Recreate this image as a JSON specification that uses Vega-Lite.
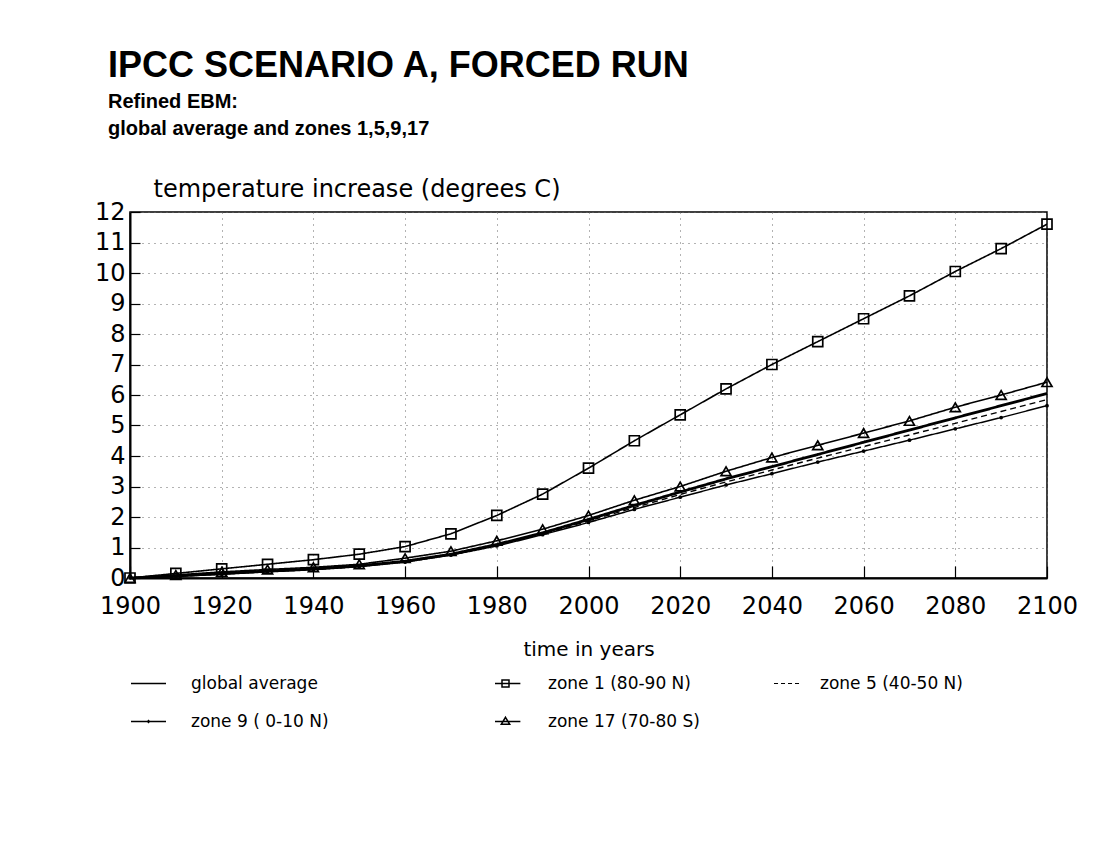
{
  "$schema": "https://vega.github.io/schema/vega-lite/v6.json",
  "width": 917,
  "height": 366,
  "autosize": "none",
  "padding": {"left": 130, "top": 212, "right": 72, "bottom": 287},
  "background": "white",
  "title": {
    "text": "IPCC SCENARIO A, FORCED RUN",
    "subtitle": ["Refined EBM:", "global average and zones 1,5,9,17"],
    "anchor": "start",
    "frame": "group",
    "dx": -22,
    "offset": 37,
    "font": "Liberation Sans",
    "fontSize": 36,
    "fontWeight": "bold",
    "color": "black",
    "subtitleFont": "Liberation Sans",
    "subtitleFontSize": 20,
    "subtitleFontWeight": "bold",
    "subtitleColor": "black",
    "subtitlePadding": 7,
    "subtitleLineHeight": 27
  },
  "data": {"values": [
    {"year": 1900, "series": "global average", "t": 0},
    {"year": 1910, "series": "global average", "t": 0.07},
    {"year": 1920, "series": "global average", "t": 0.15},
    {"year": 1930, "series": "global average", "t": 0.23},
    {"year": 1940, "series": "global average", "t": 0.3},
    {"year": 1950, "series": "global average", "t": 0.4},
    {"year": 1960, "series": "global average", "t": 0.55},
    {"year": 1970, "series": "global average", "t": 0.78},
    {"year": 1980, "series": "global average", "t": 1.1},
    {"year": 1990, "series": "global average", "t": 1.48},
    {"year": 2000, "series": "global average", "t": 1.92},
    {"year": 2010, "series": "global average", "t": 2.38},
    {"year": 2020, "series": "global average", "t": 2.82},
    {"year": 2030, "series": "global average", "t": 3.25},
    {"year": 2040, "series": "global average", "t": 3.65},
    {"year": 2050, "series": "global average", "t": 4.05},
    {"year": 2060, "series": "global average", "t": 4.45},
    {"year": 2070, "series": "global average", "t": 4.85},
    {"year": 2080, "series": "global average", "t": 5.25},
    {"year": 2090, "series": "global average", "t": 5.65},
    {"year": 2100, "series": "global average", "t": 6.05},
    {"year": 1900, "series": "zone  1 (80-90 N)", "t": 0},
    {"year": 1910, "series": "zone  1 (80-90 N)", "t": 0.15},
    {"year": 1920, "series": "zone  1 (80-90 N)", "t": 0.3},
    {"year": 1930, "series": "zone  1 (80-90 N)", "t": 0.45},
    {"year": 1940, "series": "zone  1 (80-90 N)", "t": 0.6},
    {"year": 1950, "series": "zone  1 (80-90 N)", "t": 0.78},
    {"year": 1960, "series": "zone  1 (80-90 N)", "t": 1.03},
    {"year": 1970, "series": "zone  1 (80-90 N)", "t": 1.45},
    {"year": 1980, "series": "zone  1 (80-90 N)", "t": 2.05},
    {"year": 1990, "series": "zone  1 (80-90 N)", "t": 2.75},
    {"year": 2000, "series": "zone  1 (80-90 N)", "t": 3.6},
    {"year": 2010, "series": "zone  1 (80-90 N)", "t": 4.5},
    {"year": 2020, "series": "zone  1 (80-90 N)", "t": 5.35},
    {"year": 2030, "series": "zone  1 (80-90 N)", "t": 6.2},
    {"year": 2040, "series": "zone  1 (80-90 N)", "t": 7.0},
    {"year": 2050, "series": "zone  1 (80-90 N)", "t": 7.75},
    {"year": 2060, "series": "zone  1 (80-90 N)", "t": 8.5},
    {"year": 2070, "series": "zone  1 (80-90 N)", "t": 9.25},
    {"year": 2080, "series": "zone  1 (80-90 N)", "t": 10.05},
    {"year": 2090, "series": "zone  1 (80-90 N)", "t": 10.8},
    {"year": 2100, "series": "zone  1 (80-90 N)", "t": 11.6},
    {"year": 1900, "series": "zone  5 (40-50 N)", "t": 0},
    {"year": 1910, "series": "zone  5 (40-50 N)", "t": 0.06},
    {"year": 1920, "series": "zone  5 (40-50 N)", "t": 0.13},
    {"year": 1930, "series": "zone  5 (40-50 N)", "t": 0.21},
    {"year": 1940, "series": "zone  5 (40-50 N)", "t": 0.28},
    {"year": 1950, "series": "zone  5 (40-50 N)", "t": 0.38},
    {"year": 1960, "series": "zone  5 (40-50 N)", "t": 0.53},
    {"year": 1970, "series": "zone  5 (40-50 N)", "t": 0.76},
    {"year": 1980, "series": "zone  5 (40-50 N)", "t": 1.07},
    {"year": 1990, "series": "zone  5 (40-50 N)", "t": 1.45},
    {"year": 2000, "series": "zone  5 (40-50 N)", "t": 1.87},
    {"year": 2010, "series": "zone  5 (40-50 N)", "t": 2.31},
    {"year": 2020, "series": "zone  5 (40-50 N)", "t": 2.74},
    {"year": 2030, "series": "zone  5 (40-50 N)", "t": 3.15},
    {"year": 2040, "series": "zone  5 (40-50 N)", "t": 3.54},
    {"year": 2050, "series": "zone  5 (40-50 N)", "t": 3.93},
    {"year": 2060, "series": "zone  5 (40-50 N)", "t": 4.31},
    {"year": 2070, "series": "zone  5 (40-50 N)", "t": 4.69},
    {"year": 2080, "series": "zone  5 (40-50 N)", "t": 5.07},
    {"year": 2090, "series": "zone  5 (40-50 N)", "t": 5.46},
    {"year": 2100, "series": "zone  5 (40-50 N)", "t": 5.85},
    {"year": 1900, "series": "zone  9 ( 0-10 N)", "t": 0},
    {"year": 1910, "series": "zone  9 ( 0-10 N)", "t": 0.05},
    {"year": 1920, "series": "zone  9 ( 0-10 N)", "t": 0.12},
    {"year": 1930, "series": "zone  9 ( 0-10 N)", "t": 0.2},
    {"year": 1940, "series": "zone  9 ( 0-10 N)", "t": 0.27},
    {"year": 1950, "series": "zone  9 ( 0-10 N)", "t": 0.37},
    {"year": 1960, "series": "zone  9 ( 0-10 N)", "t": 0.52},
    {"year": 1970, "series": "zone  9 ( 0-10 N)", "t": 0.75},
    {"year": 1980, "series": "zone  9 ( 0-10 N)", "t": 1.05},
    {"year": 1990, "series": "zone  9 ( 0-10 N)", "t": 1.42},
    {"year": 2000, "series": "zone  9 ( 0-10 N)", "t": 1.82},
    {"year": 2010, "series": "zone  9 ( 0-10 N)", "t": 2.25},
    {"year": 2020, "series": "zone  9 ( 0-10 N)", "t": 2.65},
    {"year": 2030, "series": "zone  9 ( 0-10 N)", "t": 3.05},
    {"year": 2040, "series": "zone  9 ( 0-10 N)", "t": 3.42},
    {"year": 2050, "series": "zone  9 ( 0-10 N)", "t": 3.8},
    {"year": 2060, "series": "zone  9 ( 0-10 N)", "t": 4.16},
    {"year": 2070, "series": "zone  9 ( 0-10 N)", "t": 4.52},
    {"year": 2080, "series": "zone  9 ( 0-10 N)", "t": 4.89},
    {"year": 2090, "series": "zone  9 ( 0-10 N)", "t": 5.26},
    {"year": 2100, "series": "zone  9 ( 0-10 N)", "t": 5.65},
    {"year": 1900, "series": "zone 17 (70-80 S)", "t": 0},
    {"year": 1910, "series": "zone 17 (70-80 S)", "t": 0.1},
    {"year": 1920, "series": "zone 17 (70-80 S)", "t": 0.2},
    {"year": 1930, "series": "zone 17 (70-80 S)", "t": 0.28},
    {"year": 1940, "series": "zone 17 (70-80 S)", "t": 0.35},
    {"year": 1950, "series": "zone 17 (70-80 S)", "t": 0.45},
    {"year": 1960, "series": "zone 17 (70-80 S)", "t": 0.65},
    {"year": 1970, "series": "zone 17 (70-80 S)", "t": 0.88},
    {"year": 1980, "series": "zone 17 (70-80 S)", "t": 1.22},
    {"year": 1990, "series": "zone 17 (70-80 S)", "t": 1.6},
    {"year": 2000, "series": "zone 17 (70-80 S)", "t": 2.05},
    {"year": 2010, "series": "zone 17 (70-80 S)", "t": 2.55},
    {"year": 2020, "series": "zone 17 (70-80 S)", "t": 3.0},
    {"year": 2030, "series": "zone 17 (70-80 S)", "t": 3.5},
    {"year": 2040, "series": "zone 17 (70-80 S)", "t": 3.95},
    {"year": 2050, "series": "zone 17 (70-80 S)", "t": 4.35},
    {"year": 2060, "series": "zone 17 (70-80 S)", "t": 4.75},
    {"year": 2070, "series": "zone 17 (70-80 S)", "t": 5.15},
    {"year": 2080, "series": "zone 17 (70-80 S)", "t": 5.6},
    {"year": 2090, "series": "zone 17 (70-80 S)", "t": 6.0},
    {"year": 2100, "series": "zone 17 (70-80 S)", "t": 6.42}
  ]},
  "encoding": {
    "x": {
      "field": "year", "type": "quantitative",
      "scale": {"domain": [1900, 2100], "nice": false, "zero": false},
      "axis": {
        "title": "time in years",
        "values": [1900, 1920, 1940, 1960, 1980, 2000, 2020, 2040, 2060, 2080, 2100],
        "format": "d",
        "labelFont": "DejaVu Sans", "labelFontSize": 24, "labelColor": "black",
        "labelPadding": 28, "labelFlush": false, "labelOverlap": false,
        "titleFont": "DejaVu Sans", "titleFontSize": 20, "titleFontWeight": "normal", "titleColor": "black",
        "titlePadding": 21,
        "domainColor": "black", "domainWidth": 2,
        "ticks": true, "tickSize": -12, "tickColor": "black", "tickWidth": 1.2,
        "grid": true, "gridColor": "#666", "gridDash": [1, 5], "gridWidth": 1
      }
    },
    "y": {
      "field": "t", "type": "quantitative",
      "scale": {"domain": [0, 12], "nice": false},
      "axis": {
        "title": "temperature increase (degrees C)",
        "values": [0, 1, 2, 3, 4, 5, 6, 7, 8, 9, 10, 11, 12],
        "labelFont": "DejaVu Sans", "labelFontSize": 24, "labelColor": "black",
        "labelPadding": 15, "labelFlush": false, "labelOverlap": false,
        "titleFont": "DejaVu Sans", "titleFontSize": 24, "titleFontWeight": "normal", "titleColor": "black",
        "titleAngle": 0, "titleAlign": "left", "titleBaseline": "alphabetic",
        "titleX": 23, "titleY": -16,
        "domainColor": "black", "domainWidth": 2,
        "ticks": true, "tickSize": -10, "tickColor": "black", "tickWidth": 1.2,
        "grid": true, "gridColor": "#666", "gridDash": [1, 5], "gridWidth": 1
      }
    }
  },
  "layer": [
    {
      "mark": {"type": "line", "color": "black"},
      "encoding": {
        "detail": {"field": "series"},
        "strokeDash": {
          "field": "series", "type": "nominal", "legend": null,
          "scale": {
            "domain": ["global average", "zone  1 (80-90 N)", "zone  5 (40-50 N)", "zone  9 ( 0-10 N)", "zone 17 (70-80 S)"],
            "range": [[1, 0], [1, 0], [6, 4], [1, 0], [1, 0]]
          }
        },
        "strokeWidth": {
          "field": "series", "type": "nominal", "legend": null,
          "scale": {
            "type": "ordinal",
            "domain": ["global average", "zone  1 (80-90 N)", "zone  5 (40-50 N)", "zone  9 ( 0-10 N)", "zone 17 (70-80 S)"],
            "range": [2.8, 1.6, 1.4, 1.5, 1.6]
          }
        }
      }
    },
    {
      "transform": [{"filter": "datum.series === 'zone  1 (80-90 N)'"}],
      "mark": {"type": "point", "shape": "square", "size": 100, "color": "black", "filled": false, "strokeWidth": 1.7, "opacity": 1}
    },
    {
      "transform": [{"filter": "datum.series === 'zone 17 (70-80 S)'"}],
      "mark": {"type": "point", "shape": "triangle-up", "size": 100, "color": "black", "filled": false, "strokeWidth": 1.7, "opacity": 1}
    },
    {
      "transform": [{"filter": "datum.series === 'zone  9 ( 0-10 N)'"}],
      "mark": {"type": "circle", "size": 14, "color": "black", "opacity": 1}
    },
    {
      "transform": [{"filter": "datum.series === 'global average' || datum.series === 'zone  9 ( 0-10 N)'"}],
      "mark": {"type": "point", "color": "black", "filled": false, "opacity": 0},
      "encoding": {
        "shape": {
          "field": "series", "type": "nominal",
          "scale": {
            "domain": ["global average", "zone  9 ( 0-10 N)"],
            "range": ["M-1,0H1", "M-1,0H1M0,-0.05L0.05,0L0,0.05L-0.05,0Z"]
          },
          "legend": {
            "title": null, "orient": "none", "legendX": 0, "legendY": 453,
            "direction": "vertical", "rowPadding": 11,
            "symbolSize": 1225, "symbolOpacity": 1, "symbolStrokeColor": "black",
            "symbolFillColor": "transparent", "symbolStrokeWidth": 1.5,
            "labelOffset": 24, "labelFont": "DejaVu Sans", "labelFontSize": 17,
            "labelColor": "black", "labelLimit": 400, "padding": 0
          }
        }
      }
    },
    {
      "transform": [{"filter": "datum.series === 'zone  1 (80-90 N)' || datum.series === 'zone 17 (70-80 S)'"}],
      "mark": {"type": "point", "color": "black", "filled": false, "opacity": 0},
      "encoding": {
        "shape": {
          "field": "series", "type": "nominal",
          "scale": {
            "domain": ["zone  1 (80-90 N)", "zone 17 (70-80 S)"],
            "range": ["M-0.6,0H0.85M-0.2,-0.2H0.2V0.2H-0.2Z", "M-0.6,0H0.85M0,-0.24L0.24,0.16H-0.24Z"]
          },
          "legend": {
            "title": null, "orient": "none", "legendX": 357, "legendY": 453,
            "direction": "vertical", "rowPadding": 11,
            "symbolSize": 1225, "symbolOpacity": 1, "symbolStrokeColor": "black",
            "symbolFillColor": "transparent", "symbolStrokeWidth": 1.5,
            "labelOffset": 24, "labelFont": "DejaVu Sans", "labelFontSize": 17,
            "labelColor": "black", "labelLimit": 400, "padding": 0
          }
        }
      }
    },
    {
      "transform": [{"filter": "datum.series === 'zone  5 (40-50 N)'"}],
      "mark": {"type": "point", "color": "black", "filled": false, "opacity": 0},
      "encoding": {
        "shape": {
          "field": "series", "type": "nominal",
          "scale": {
            "domain": ["zone  5 (40-50 N)"],
            "range": ["M-0.2,0H0.03M0.2,0H0.43M0.6,0H0.83M1.0,0H1.23"]
          },
          "legend": {
            "title": null, "orient": "none", "legendX": 629, "legendY": 453,
            "direction": "vertical", "rowPadding": 11,
            "symbolSize": 1225, "symbolOpacity": 1, "symbolStrokeColor": "black",
            "symbolFillColor": "transparent", "symbolStrokeWidth": 1.2,
            "labelOffset": 24, "labelFont": "DejaVu Sans", "labelFontSize": 17,
            "labelColor": "black", "labelLimit": 400, "padding": 0
          }
        }
      }
    }
  ],
  "resolve": {"scale": {"shape": "independent"}, "legend": {"shape": "independent"}},
  "config": {
    "view": {"stroke": "black", "strokeWidth": 1.5}
  }
}
